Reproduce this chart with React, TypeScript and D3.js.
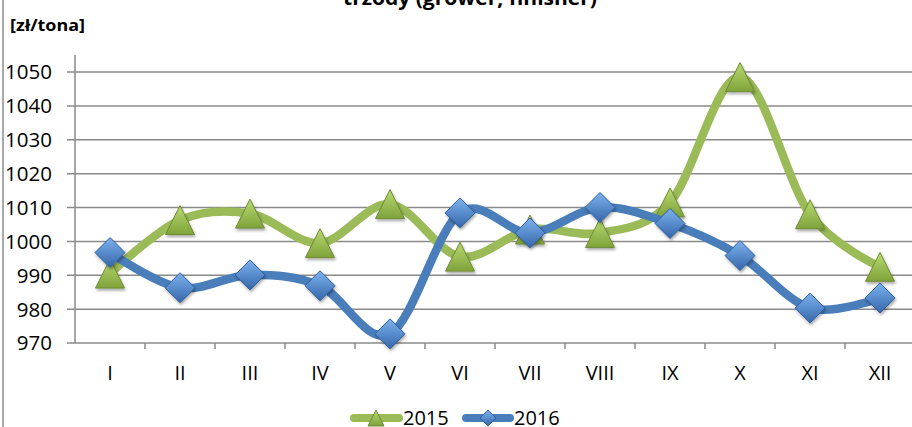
import React from "react";
import * as d3 from "d3";

const categories = ["I", "II", "III", "IV", "V", "VI", "VII", "VIII", "IX", "X", "XI", "XII"];
const values2015 = [990.5, 1006.3, 1008.2, 999.5, 1011, 995.5, 1003.5, 1002.5, 1011.5, 1048.5, 1008, 992.5];
const values2016 = [996.7, 986.3, 990.1, 986.9, 972.7, 1008.4, 1002.5, 1010, 1005.3, 995.8, 980.3, 983.3];
const yTicks = [970, 980, 990, 1000, 1010, 1020, 1030, 1040, 1050];
const seriesNames = ["2015", "2016"];

const W = 912;
const H = 427;
const FONT = "'Open Sans', 'Liberation Sans', sans-serif";

export default function App() {
  const plotLeft = 75;
  const step = 70;
  const x = d3
    .scalePoint<string>()
    .domain(categories)
    .range([plotLeft + step / 2, plotLeft + step / 2 + step * (categories.length - 1)]);
  const y = d3.scaleLinear().domain([970, 1050]).range([343, 72]);
  const yTop = y(1055);
  const gridRight = W;

  const line = d3
    .line<number>()
    .x((_, i) => x(categories[i]) as number)
    .y((d) => y(d))
    .curve(d3.curveCardinal.tension(0));

  const tri = (cx: number, cy: number, s: number) =>
    `M${cx},${cy - s} L${cx + s},${cy + s} L${cx - s},${cy + s} Z`;
  const dia = (cx: number, cy: number, s: number) =>
    `M${cx},${cy - s} L${cx + s},${cy} L${cx},${cy + s} L${cx - s},${cy} Z`;

  const green = "#9BBB59";
  const blue = "#4A7EBB";

  return (
    <svg
      width={W}
      height={H}
      style={{ position: "absolute", left: 0, top: 0, background: "#fff" }}
      fontFamily={FONT}
    >
      <defs>
        <linearGradient id="gTri" x1="0" y1="0" x2="0" y2="1">
          <stop offset="0" stopColor="#B9DA72" />
          <stop offset="1" stopColor="#7FA23A" />
        </linearGradient>
        <linearGradient id="gDia" x1="0" y1="0" x2="0" y2="1">
          <stop offset="0" stopColor="#7DB2EE" />
          <stop offset="1" stopColor="#3566AA" />
        </linearGradient>
        <filter id="shadow" x="-50%" y="-50%" width="200%" height="200%">
          <feDropShadow dx="1" dy="2" stdDeviation="1.5" floodColor="#000" floodOpacity="0.35" />
        </filter>
      </defs>

      {/* left frame */}
      <line x1={3} x2={3} y1={0} y2={H} stroke="#8C8C8C" strokeWidth={1.5} />

      {/* title (cut) */}
      <text
        x={470}
        y={5}
        textAnchor="middle"
        fontWeight="bold"
        fontSize={19}
        fill="#000"
        textLength={254}
        lengthAdjust="spacingAndGlyphs"
      >
        trzody (grower, finisher)
      </text>
      <text x={10} y={31} fontWeight="bold" fontSize={16} fill="#000" textLength={75} lengthAdjust="spacingAndGlyphs">
        [zł/tona]
      </text>

      {/* gridlines */}
      {yTicks.map((t) => (
        <g key={t}>
          <line x1={plotLeft - 8} x2={gridRight} y1={y(t)} y2={y(t)} stroke="#8A8A8A" strokeWidth={1.5} />
          <text x={52} y={y(t)} dy="0.36em" textAnchor="end" fontSize={20.5} fill="#000">
            {t}
          </text>
        </g>
      ))}
      {/* y axis */}
      <line x1={plotLeft} x2={plotLeft} y1={yTop} y2={y(970)} stroke="#8A8A8A" strokeWidth={1.5} />
      {/* x ticks */}
      {categories.map((c) => (
        <g key={c}>
          <line
            x1={(x(c) as number) + step / 2}
            x2={(x(c) as number) + step / 2}
            y1={y(970)}
            y2={y(970) + 6}
            stroke="#8A8A8A"
            strokeWidth={1.5}
          />
          <text x={x(c) as number} y={380} textAnchor="middle" fontSize={20} fill="#000">
            {c}
          </text>
        </g>
      ))}

      {/* 2015 */}
      <path d={line(values2015) || ""} fill="none" stroke={green} strokeWidth={8.5} strokeLinecap="round" />
      {values2015.map((v, i) => (
        <path
          key={"t" + i}
          d={tri(x(categories[i]) as number, y(v), 14.5)}
          fill="url(#gTri)"
          stroke="#6F8C36"
          strokeWidth={1}
          filter="url(#shadow)"
        />
      ))}
      {/* 2016 */}
      <path d={line(values2016) || ""} fill="none" stroke={blue} strokeWidth={8.5} strokeLinecap="round" />
      {values2016.map((v, i) => (
        <path
          key={"d" + i}
          d={dia(x(categories[i]) as number, y(v), 15)}
          fill="url(#gDia)"
          stroke="#2F5F9E"
          strokeWidth={1}
          filter="url(#shadow)"
        />
      ))}

      {/* legend */}
      <g>
        <line x1={354} x2={399} y1={418} y2={418} stroke={green} strokeWidth={8} strokeLinecap="round" />
        <path d={tri(376, 418, 8)} fill="url(#gTri)" stroke="#6F8C36" strokeWidth={1} />
        <text x={403} y={425} fontSize={20} fill="#000">
          {seriesNames[0]}
        </text>
        <line x1={466} x2={510} y1={418} y2={418} stroke={blue} strokeWidth={8} strokeLinecap="round" />
        <path d={dia(488, 418, 8)} fill="url(#gDia)" stroke="#2F5F9E" strokeWidth={1} />
        <text x={514} y={425} fontSize={20} fill="#000">
          {seriesNames[1]}
        </text>
      </g>
    </svg>
  );
}
